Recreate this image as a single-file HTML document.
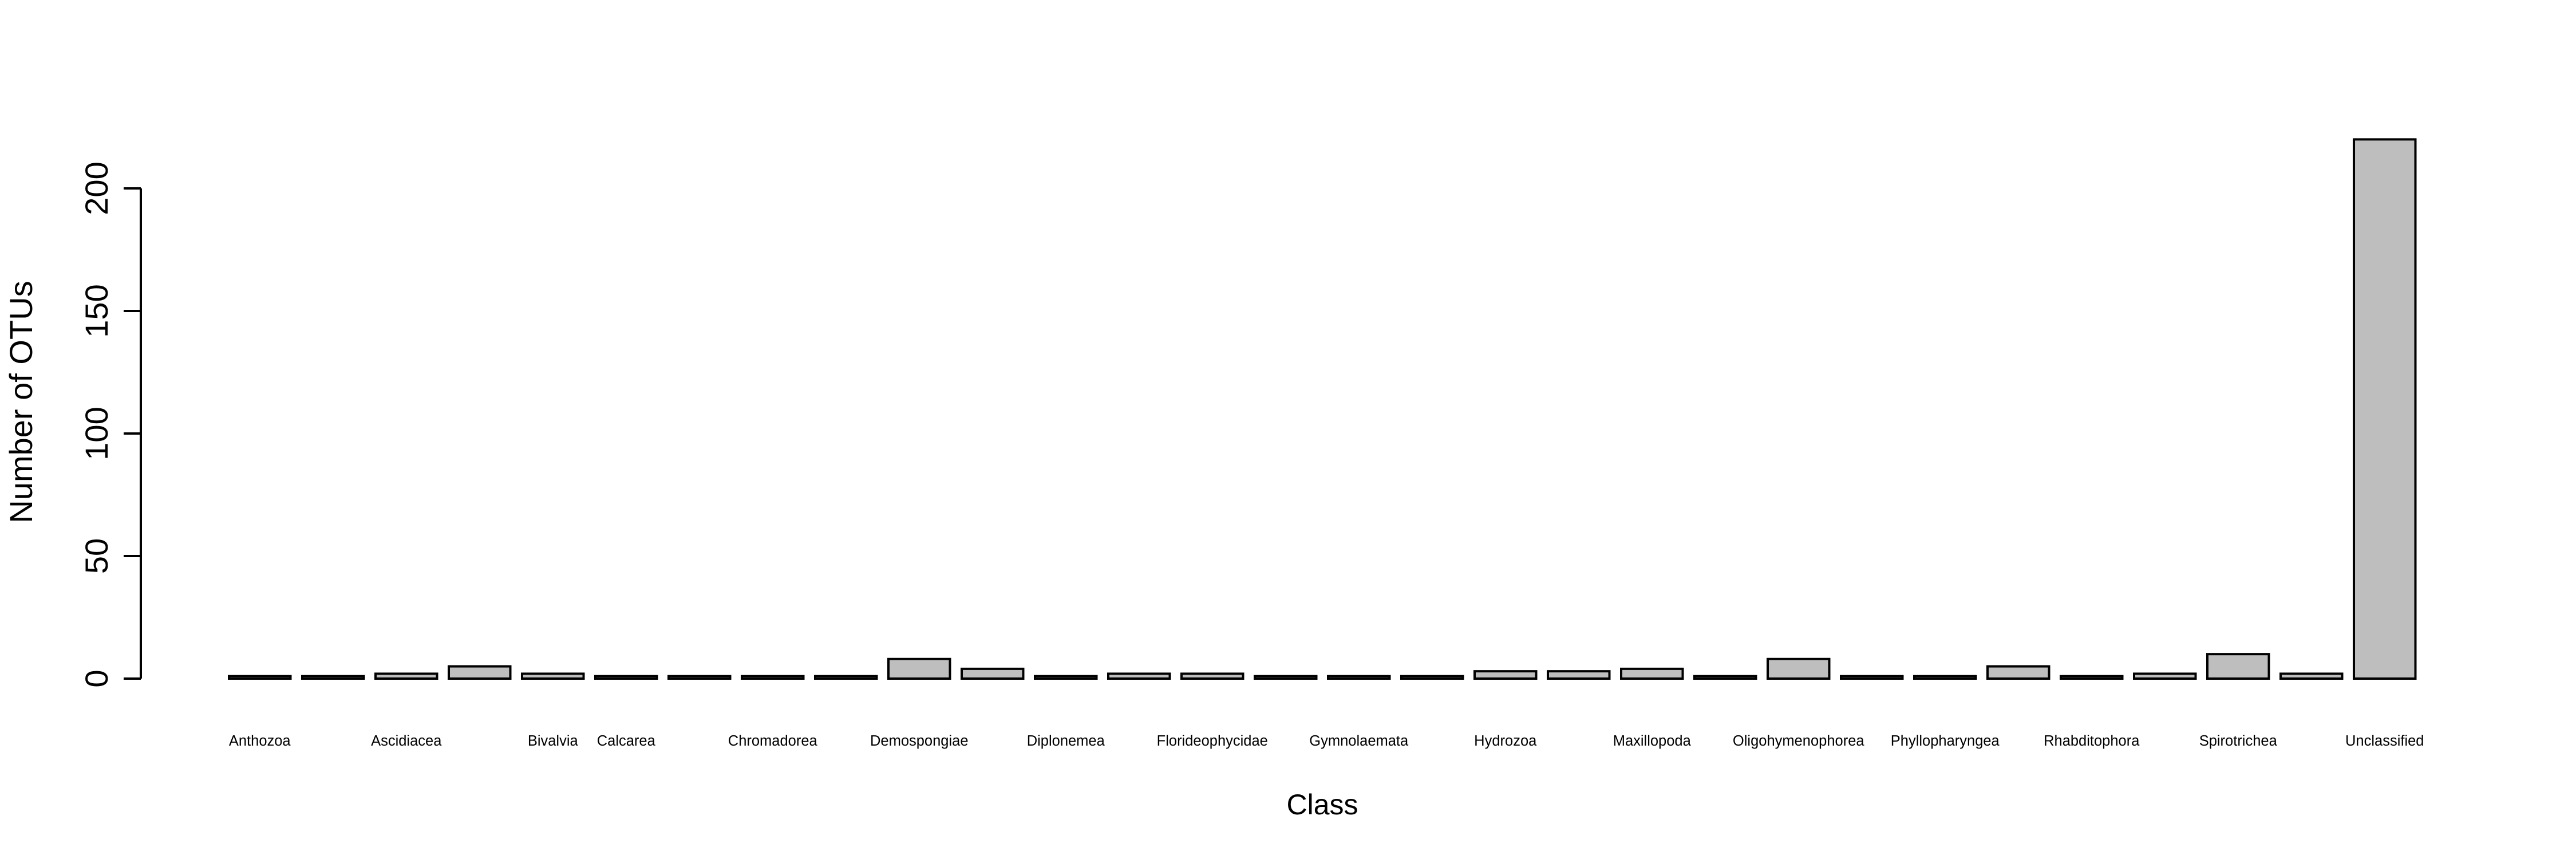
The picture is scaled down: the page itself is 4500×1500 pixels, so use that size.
<!DOCTYPE html>
<html><head><meta charset="utf-8"><style>
html,body{margin:0;padding:0;background:#fff;}
svg{display:block;font-family:"Liberation Sans",Arial,sans-serif;}
</style></head><body>
<svg id="chart" width="4500" height="1500" viewBox="0 0 4500 1500" xmlns="http://www.w3.org/2000/svg">
<rect x="0" y="0" width="4500" height="1500" fill="#fff"/>
<g id="bars"></g>
<g id="yaxis"></g>
<g id="xlabels"></g>
<text x="2310" y="1422" font-size="50" text-anchor="middle">Class</text>
<text transform="translate(56,702) rotate(-90)" font-size="56" text-anchor="middle">Number of OTUs</text>
</svg>
<script>
const categories = ["Anthozoa","Appendicularia","Ascidiacea","Bacillariophyceae","Bivalvia","Calcarea","Chlorophyceae","Chromadorea","Colpodea","Demospongiae","Dinophyceae","Diplonemea","Enoplea","Florideophycidae","Gastropoda","Gymnolaemata","Hexanauplia","Hydrozoa","Litostomatea","Maxillopoda","Nassophorea","Oligohymenophorea","Ostracoda","Phyllopharyngea","Polychaeta","Rhabditophora","Scyphozoa","Spirotrichea","Trebouxiophyceae","Unclassified"];
const values = [1,1,2,5,2,1,1,1,1,8,4,1,2,2,1,1,1,3,3,4,1,8,1,1,5,1,2,10,2,220];
const shownLabels = ["Anthozoa","Ascidiacea","Bivalvia","Calcarea","Chromadorea","Demospongiae","Diplonemea","Florideophycidae","Gymnolaemata","Hydrozoa","Maxillopoda","Oligohymenophorea","Phyllopharyngea","Rhabditophora","Spirotrichea","Unclassified"];
const yTicks = [0,50,100,150,200];

const NS="http://www.w3.org/2000/svg";
const y0=1185, pxPerUnit=(1185-329)/200;
const xLeft=400, pitch=128.0, barW=107.5;
function yScale(v){return y0 - v*pxPerUnit;}
function xScale(i){return xLeft + i*pitch;}

const gb=document.getElementById('bars');
categories.forEach((c,i)=>{
  const r=document.createElementNS(NS,'rect');
  const top=yScale(values[i]);
  r.setAttribute('x',xScale(i));
  r.setAttribute('y',top);
  r.setAttribute('width',barW);
  r.setAttribute('height',Math.max(y0-top,0.5));
  r.setAttribute('fill','#bebebe');
  r.setAttribute('stroke','#000');
  r.setAttribute('stroke-width','4');
  
  
  gb.appendChild(r);
});

const gy=document.getElementById('yaxis');
const axisX=246;
const al=document.createElementNS(NS,'line');
al.setAttribute('x1',axisX);al.setAttribute('x2',axisX);
al.setAttribute('y1',yScale(yTicks[0]));al.setAttribute('y2',yScale(yTicks[yTicks.length-1]));
al.setAttribute('stroke','#000');al.setAttribute('stroke-width','4');


gy.appendChild(al);
yTicks.forEach(t=>{
  const y=yScale(t);
  const l=document.createElementNS(NS,'line');
  l.setAttribute('x1',axisX-30);l.setAttribute('x2',axisX);
  l.setAttribute('y1',y);l.setAttribute('y2',y);
  l.setAttribute('stroke','#000');l.setAttribute('stroke-width','4');
  
  
  gy.appendChild(l);
  const tx=document.createElementNS(NS,'text');
  tx.setAttribute('transform','translate(188,'+y+') rotate(-90)');
  tx.setAttribute('font-size','56');
  tx.setAttribute('text-anchor','middle');
  tx.textContent=t;
  
  
  gy.appendChild(tx);
});

const gx=document.getElementById('xlabels');
categories.forEach((c,i)=>{
  if(shownLabels.indexOf(c)<0) return;
  const tx=document.createElementNS(NS,'text');
  tx.setAttribute('x',xScale(i)+barW/2);
  tx.setAttribute('y',1302);
  tx.setAttribute('font-size','25.5');
  tx.setAttribute('text-anchor','middle');
  tx.textContent=c;
  
  
  gx.appendChild(tx);
});
</script>
</body></html>
